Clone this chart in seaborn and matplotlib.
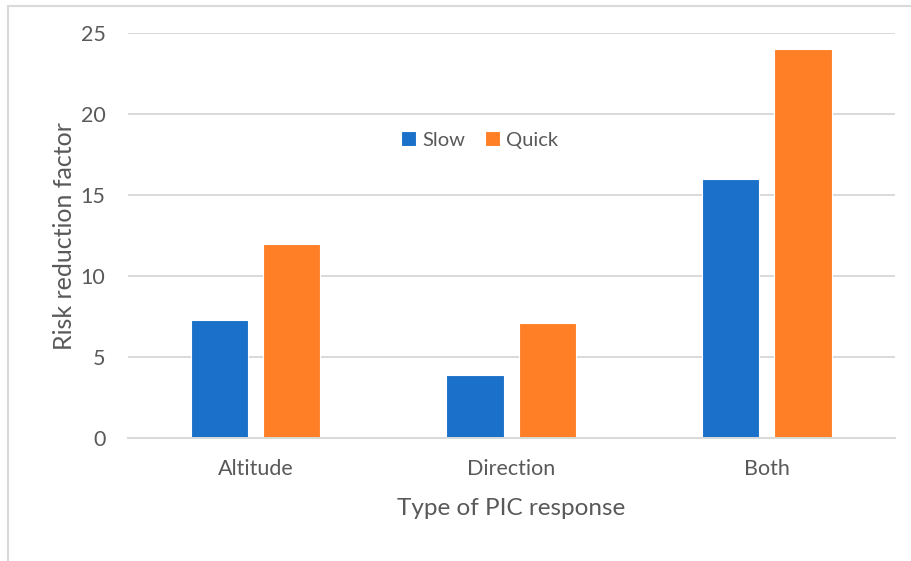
import matplotlib
matplotlib.use("Agg")
import matplotlib.pyplot as plt
from matplotlib.lines import Line2D
import seaborn as sns
import pandas as pd

categories = ["Altitude", "Direction", "Both"]
slow = [7.3, 3.9, 16.0]
quick = [12.0, 7.1, 24.0]
series_names = ["Slow", "Quick"]
colors = ["#1B70C9", "#FF7F27"]

df = pd.DataFrame({
    "response": categories * 2,
    "speed": [series_names[0]] * 3 + [series_names[1]] * 3,
    "factor": slow + quick,
})

sns.set_theme(style="white")
plt.rcParams["font.family"] = ["Lato", "DejaVu Sans"]
text_color = "#595959"
grid_color = "#D9D9D9"

fig = plt.figure(figsize=(9.12, 5.61), dpi=100)
ax = fig.add_axes([0.140, 0.219, 0.841, 0.722])

sns.barplot(data=df, x="response", y="factor", hue="speed",
            palette=colors, saturation=1, width=0.567, gap=0.21, ax=ax,
            edgecolor="white", linewidth=0.8, legend=True)

ax.set_ylim(0, 25)
ax.set_xlim(-0.5, 2.5)
ax.set_yticks([0, 5, 10, 15, 20, 25])
ax.yaxis.grid(True, color=grid_color, linewidth=1.4)
ax.set_axisbelow(True)
for side in ["left", "right", "top"]:
    ax.spines[side].set_visible(False)
ax.spines["bottom"].set_color(grid_color)
ax.spines["bottom"].set_linewidth(1.4)
ax.tick_params(axis="both", length=0, labelsize=15.5, colors=text_color)
ax.tick_params(axis="x", pad=15)
ax.tick_params(axis="y", pad=16)

ax.set_xlabel("Type of PIC response", fontsize=17.5, color=text_color, labelpad=14)
ax.set_ylabel("Risk reduction factor", fontsize=18, color=text_color, labelpad=3)

leg = ax.legend(loc="center", bbox_to_anchor=(0.459, 0.736), ncol=2, frameon=False,
                fontsize=14.5, handlelength=0.75, handleheight=0.75,
                handletextpad=0.3, columnspacing=1.0)
for t in leg.get_texts():
    t.set_color(text_color)

# light outer frame
W, H = 912, 561
fig.add_artist(Line2D([8 / W, 8 / W], [0, 1 - 6 / H], transform=fig.transFigure,
                      color=grid_color, linewidth=1.5))
fig.add_artist(Line2D([8 / W, 1], [1 - 6 / H, 1 - 6 / H], transform=fig.transFigure,
                      color=grid_color, linewidth=1.5))

fig.savefig("out.png", dpi=100, facecolor="white")
